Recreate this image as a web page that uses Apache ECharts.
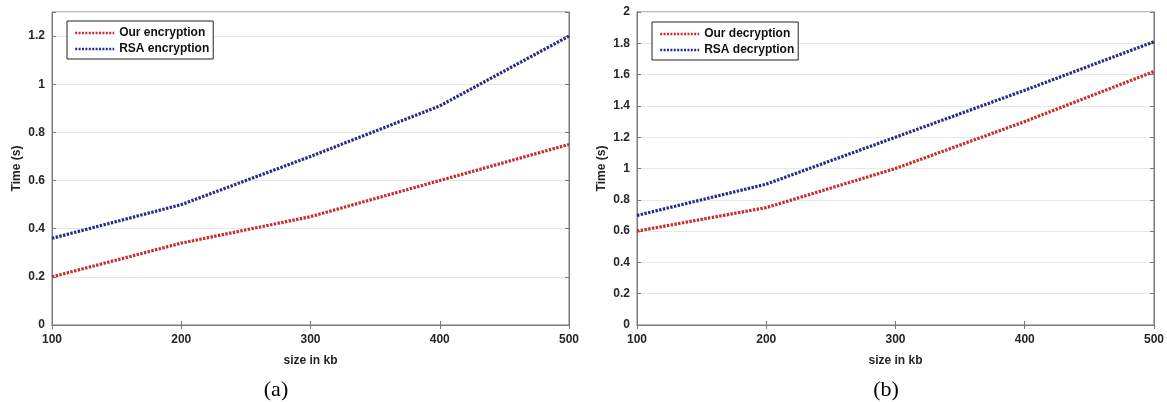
<!DOCTYPE html>
<html>
<head>
<meta charset="utf-8">
<script src="https://cdn.jsdelivr.net/npm/echarts@6/dist/echarts.min.js"></script>
<style>
html,body{margin:0;padding:0;background:#fff;}
#c{width:1167px;height:402px;}
</style>
</head>
<body>
<div id="c"></div>
<script>
// ---- data ----
const sizes = [100, 200, 300, 400, 500];
const ourEncryption = [0.20, 0.34, 0.45, 0.60, 0.75];
const rsaEncryption = [0.36, 0.50, 0.70, 0.91, 1.20];
const ourDecryption = [0.60, 0.75, 1.00, 1.30, 1.62];
const rsaDecryption = [0.70, 0.90, 1.20, 1.50, 1.81];
const seriesNamesA = ['Our encryption', 'RSA encryption'];
const seriesNamesB = ['Our decryption', 'RSA decryption'];
const panelLabels = ['(a)', '(b)'];
const xTitle = 'size in kb';
const yTitle = 'Time (s)';

const RED = '#c92a2a';
const BLUE = '#272a82';
const FRAME = '#7a7a7a';
const TXT = '#262626';
const FONT = '"Liberation Sans", Arial, sans-serif';

function pairs(xs, ys) { return xs.map((x, i) => [x, ys[i]]); }

const grids = [
  { left: 52, right: 598, top: 12, bottom: 77, show: true, borderColor: FRAME, borderWidth: 1, backgroundColor: '#fff' },
  { left: 637, right: 13, top: 12, bottom: 77, show: true, borderColor: FRAME, borderWidth: 1, backgroundColor: '#fff' }
];

const labelStyle = { color: TXT, fontFamily: FONT, fontWeight: 'bold', fontSize: 12 };

function mainX(g) {
  return {
    type: 'value', gridIndex: g, min: 100, max: 500, interval: 100, position: 'bottom',
    name: xTitle, nameLocation: 'middle', nameGap: 30,
    nameTextStyle: { color: TXT, fontFamily: FONT, fontWeight: 'bold', fontSize: 12 },
    axisLine: { show: true, lineStyle: { color: FRAME, width: 1 } },
    axisTick: { show: true, inside: true, length: 4, lineStyle: { color: FRAME } },
    axisLabel: Object.assign({ margin: 9 }, labelStyle),
    splitLine: { show: false }
  };
}
function topX(g) {
  return {
    type: 'value', gridIndex: g, min: 100, max: 500, interval: 100, position: 'top',
    axisLine: { show: true, lineStyle: { color: FRAME, width: 1 } },
    axisTick: { show: true, inside: true, length: 4, lineStyle: { color: FRAME } },
    axisLabel: { show: false }, splitLine: { show: false }
  };
}
function mainY(g, max) {
  return {
    type: 'value', gridIndex: g, min: 0, max: max, interval: 0.2, position: 'left',
    name: yTitle, nameLocation: 'middle', nameGap: 29, nameRotate: 90,
    nameTextStyle: { color: TXT, fontFamily: FONT, fontWeight: 'bold', fontSize: 12 },
    axisLine: { show: true, lineStyle: { color: FRAME, width: 1 } },
    axisTick: { show: true, inside: true, length: 4, lineStyle: { color: FRAME } },
    axisLabel: Object.assign({
      margin: 7,
      formatter: function (v) {
        const r = Math.round(v * 10) / 10;
        if (Math.abs(r / 0.2 - Math.round(r / 0.2)) > 1e-6) return '';
        return String(r);
      }
    }, labelStyle),
    splitLine: { show: true, lineStyle: { color: '#e8e8e8', width: 1 } }
  };
}
function rightY(g, max) {
  return {
    type: 'value', gridIndex: g, min: 0, max: max, interval: 0.2, position: 'right',
    axisLine: { show: true, lineStyle: { color: FRAME, width: 1 } },
    axisTick: { show: true, inside: true, length: 4, lineStyle: { color: FRAME } },
    axisLabel: { show: false }, splitLine: { show: false }
  };
}

function lineSeries(name, xIdx, yIdx, data, color) {
  return {
    name: name, type: 'line', xAxisIndex: xIdx, yAxisIndex: yIdx,
    data: data, showSymbol: false, symbol: 'none', animation: false, z: 5,
    lineStyle: { color: color, width: 3.2, type: [2.4, 1.4], cap: 'butt' },
    itemStyle: { color: color }
  };
}

function legend(left, top, names) {
  return {
    show: true,
    data: names, orient: 'vertical', left: left, top: top,
    padding: [5, 4, 3, 7], itemGap: 2, itemWidth: 39, itemHeight: 13,
    borderColor: '#222', borderWidth: 1, backgroundColor: '#fff',
    selectedMode: false,
    itemStyle: { opacity: 0, borderWidth: 0 },
    lineStyle: { width: 2.4, type: [2, 1.4], cap: 'butt' },
    textStyle: { color: '#111', fontFamily: FONT, fontWeight: 'bold', fontSize: 12, lineHeight: 14 }
  };
}

const option = {
  backgroundColor: '#fff',
  animation: false,
  title: [
    { text: panelLabels[0], left: 271, top: 374, textAlign: 'center',
      textStyle: { fontFamily: '"Liberation Serif", "Times New Roman", serif', fontWeight: 'normal', fontSize: 22, color: '#000' } },
    { text: panelLabels[1], left: 881, top: 374, textAlign: 'center',
      textStyle: { fontFamily: '"Liberation Serif", "Times New Roman", serif', fontWeight: 'normal', fontSize: 22, color: '#000' } }
  ],
  grid: grids,
  xAxis: [mainX(0), topX(0), mainX(1), topX(1)],
  yAxis: [mainY(0, 1.3), rightY(0, 1.3), mainY(1, 2), rightY(1, 2)],
  legend: [legend(67, 21, seriesNamesA), legend(652, 22, seriesNamesB)],
  series: [
    lineSeries(seriesNamesA[0], 0, 0, pairs(sizes, ourEncryption), RED),
    lineSeries(seriesNamesA[1], 0, 0, pairs(sizes, rsaEncryption), BLUE),
    lineSeries(seriesNamesB[0], 2, 2, pairs(sizes, ourDecryption), RED),
    lineSeries(seriesNamesB[1], 2, 2, pairs(sizes, rsaDecryption), BLUE)
  ]
};

const chart = echarts.init(document.getElementById('c'), null, { renderer: 'canvas' });
chart.setOption(option);
</script>
</body>
</html>
